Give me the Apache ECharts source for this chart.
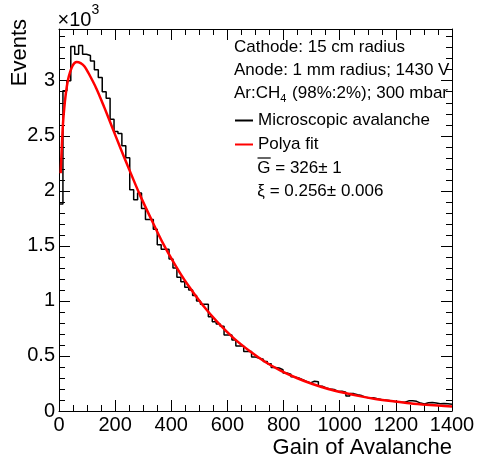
<!DOCTYPE html>
<html>
<head>
<meta charset="utf-8">
<script src="https://cdn.jsdelivr.net/npm/echarts@6/dist/echarts.min.js"></script>
<style>
  html, body { margin: 0; padding: 0; background: #fff; }
  #chart { width: 477px; height: 463px; }
</style>
</head>
<body>
<div id="chart"></div>
<script>
const FONT = '"Liberation Sans", Arial, Helvetica, sans-serif';

// histogram: 100 bins of 14 over 0..1400
const gainMin = 0;
const gainMax = 1400;
const binWidth = 14;
const histCounts = [
  1880, 2910, 3000, 3310, 3240, 3320, 3240, 3230, 3180, 3100,
  3030, 2900, 2840, 2650, 2540, 2520, 2410, 2300, 2010, 1920,
  1980, 1840, 1740, 1740, 1650, 1510, 1470, 1470, 1380, 1300,
  1215, 1175, 1125, 1100, 1050, 1000, 970, 970, 857, 810,
  790, 770, 690, 690, 645, 590, 590, 540, 540, 490,
  480, 470, 450, 430, 395, 390, 375, 345, 335, 310,
  300, 285, 268, 255, 270, 265, 225, 210, 200, 195,
  178, 180, 170, 136, 158, 148, 140, 126, 118, 120,
  112, 104, 100, 95, 88, 84, 80, 80, 92, 94,
  88, 72, 64, 75, 78, 72, 66, 68, 66, 62
];

// polya fit curve
const fitGain = [6, 14, 21, 28, 35, 49, 63, 77, 91, 105, 133, 161, 189, 217, 245, 287, 329, 371,
  413, 455, 511, 567, 623, 679, 735, 791, 847, 903, 959, 1015, 1071, 1127, 1183, 1239, 1295, 1351, 1400];
const fitCounts = [2160, 2600, 2810, 2950, 3040, 3140, 3170, 3160, 3130, 3070, 2930, 2760, 2580, 2400,
  2225, 1970, 1740, 1520, 1330, 1160, 965, 800, 660, 545, 445, 365, 300, 245, 200, 165, 135, 110,
  90, 73, 60, 49, 41];

const yMax = 3470;
const seriesNames = ['Microscopic avalanche', 'Polya fit'];
const fitResults = ['G = 326\u00b1 1', '\u03be = 0.256\u00b1 0.006'];

const histData = histCounts.map((c, i) => [gainMin + i * binWidth, c]);
histData.push([gainMax, histCounts[histCounts.length - 1]]);
const fitData = fitGain.map((g, i) => [g, fitCounts[i]]);

const ctx = document.createElement('canvas').getContext('2d');
function textWidth(str, size) {
  ctx.font = size + 'px ' + FONT;
  return ctx.measureText(str).width;
}

const black = { color: '#000', width: 1 };

function xAxisCfg(position, labels) {
  return {
    type: 'value', position, min: gainMin, max: gainMax, interval: 200,
    axisLine: { show: true, onZero: false, lineStyle: black },
    axisTick: { show: true, inside: true, length: 11, lineStyle: black },
    minorTick: { show: true, splitNumber: 4, length: 6, lineStyle: black },
    axisLabel: {
      show: labels, fontSize: 20, fontFamily: FONT, color: '#000', margin: 4,
      hideOverlap: false, formatter: v => String(v)
    },
    splitLine: { show: false },
    minorSplitLine: { show: false }
  };
}

function yAxisCfg(position, interval, major) {
  return {
    type: 'value', position, min: 0, max: yMax, interval,
    axisLine: { show: major, onZero: false, lineStyle: black },
    axisTick: { show: true, inside: true, length: major ? 11 : 6, lineStyle: black },
    axisLabel: {
      show: major && position === 'left', fontSize: 20, fontFamily: FONT, color: '#000', margin: 4,
      showMaxLabel: false, formatter: v => String(v / 1000)
    },
    splitLine: { show: false }
  };
}

const xBottom = xAxisCfg('bottom', true);
xBottom.name = 'Gain of Avalanche';
xBottom.nameLocation = 'end';
xBottom.nameGap = 0;
xBottom.nameTextStyle = { fontSize: 22, fontFamily: FONT, color: '#000', align: 'right', verticalAlign: 'top', padding: [26, 0, 0, 0] };

// info text block helpers
const subX = 234 + textWidth('Ar:CH', 17);
const restX = subX + textWidth('4', 11) + 1;
const txt = (x, y, text, size, extra) => ({
  type: 'text', x, y, silent: true, z: 50,
  style: Object.assign({ text, fontSize: size, fontFamily: FONT, fill: '#000', verticalAlign: 'middle' }, extra || {})
});

const yTitle = txt(20, 19, 'Events', 22, { align: 'right' });
yTitle.rotation = Math.PI / 2;

const chart = echarts.init(document.getElementById('chart'));
chart.setOption({
  animation: false,
  backgroundColor: '#fff',
  grid: { left: 59, right: 25, top: 29, bottom: 52, containLabel: false, outerBoundsMode: 'none' },
  xAxis: [xBottom, xAxisCfg('top', false)],
  yAxis: [
    yAxisCfg('left', 500, true),
    yAxisCfg('right', 500, true),
    yAxisCfg('left', 100, false),
    yAxisCfg('right', 100, false)
  ],
  legend: {
    orient: 'vertical', left: 235, top: 112, padding: 0, itemGap: 7,
    itemWidth: 18, itemHeight: 2, icon: 'rect',
    textStyle: { fontSize: 17, fontFamily: FONT, color: '#000' },
    data: seriesNames
  },
  series: [
    {
      name: seriesNames[0], type: 'line', step: 'end', data: histData,
      showSymbol: false, symbol: 'none', silent: true,
      lineStyle: { color: '#000', width: 1.5 }, itemStyle: { color: '#000' }, z: 2
    },
    {
      name: seriesNames[1], type: 'line', smooth: 0.3, data: fitData,
      showSymbol: false, symbol: 'none', silent: true,
      lineStyle: { color: '#ff0000', width: 2.5 }, itemStyle: { color: '#ff0000' }, z: 3
    }
  ],
  graphic: [
    yTitle,
    txt(57.5, 20.5, '\u00d710', 20),
    txt(57.5 + textWidth('\u00d710', 20), 10, '3', 14),
    txt(234, 47, 'Cathode: 15 cm radius', 17),
    txt(234, 70.5, 'Anode: 1 mm radius; 1430 V', 17),
    txt(234, 93, 'Ar:CH', 17),
    txt(subX, 99, '4', 11),
    txt(restX, 93, ' (98%:2%); 300 mbar', 17),
    txt(257.3, 168.3, fitResults[0], 17),
    {
      type: 'line', silent: true, z: 50,
      shape: { x1: 257.5, y1: 158, x2: 257.5 + textWidth('G', 17), y2: 158 },
      style: { stroke: '#000', lineWidth: 1.2 }
    },
    txt(257.3, 191.7, fitResults[1], 17)
  ]
});
</script>
</body>
</html>
